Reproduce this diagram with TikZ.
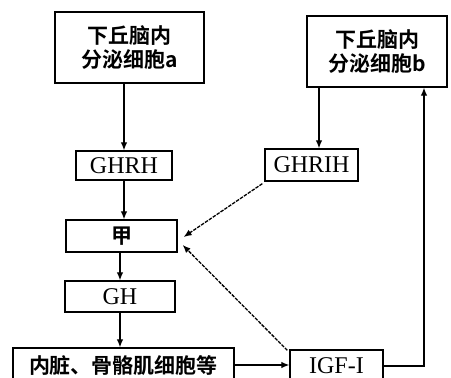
\documentclass[tikz,border=0pt]{standalone}
\usepackage{fontspec}
\setmainfont{Liberation Serif}
\newfontfamily\cjk{Noto Sans CJK SC}[BoldFont={* Bold}]
\usetikzlibrary{arrows.meta,calc}
\begin{document}
\begin{tikzpicture}[x=1pt,y=-1pt,
  box/.style={draw,line width=1.3pt,inner sep=0pt,anchor=center,align=center},
  lat/.style={font=\fontsize{24}{26}\selectfont},
  han/.style={font=\cjk\bfseries\fontsize{21}{24}\selectfont},
  arr/.style={line width=1.2pt,-{Latex[length=8pt,width=6.5pt]}},
  darr/.style={arr,line width=1.3pt,dash pattern=on 3.5pt off 1.2pt}]
\useasboundingbox (0,0) rectangle (451,378);
\clip (0,0) rectangle (451,378);
\node[box,han,minimum width=149pt,minimum height=71pt] (A) at (129.5,47.5) {下丘脑内\\分泌细胞a};
\node[box,han,minimum width=140pt,minimum height=71pt] (B) at (377,51.5) {下丘脑内\\分泌细胞b};
\node[box,lat,minimum width=96pt,minimum height=29pt] (GHRH) at (124,165.5) {GHRH};
\node[box,lat,minimum width=93pt,minimum height=32pt] (GHRIH) at (311.5,165) {GHRIH};
\node[box,han,minimum width=111pt,minimum height=32pt] (J) at (121.5,236) {甲};
\node[box,lat,minimum width=110pt,minimum height=31pt] (GH) at (120,296.5) {GH};
\node[box,han,minimum width=221pt,minimum height=34pt] (N) at (123.5,365) {内脏、骨骼肌细胞等};
\node[box,lat,minimum width=93pt,minimum height=32pt] (I) at (336.5,366) {IGF-I};
\coordinate (bx) at (424,0);
\coordinate (gx) at (319,0);
\draw[arr] (A.south -| GHRH.north) -- (GHRH.north);
\draw[arr] (GHRH.south) -- (GHRH.south |- J.north);
\draw[arr] (J.south -| GH.north) -- (GH.north);
\draw[arr] (GH.south) -- (GH.south |- N.north);
\draw[arr] (N.east) -- (N.east -| I.west);
\draw[arr] (I.east) -| (B.south -| bx);
\draw[arr] (B.south -| gx) -- (GHRIH.north -| gx);
\draw[darr] ([xshift=-2pt,yshift=-2pt]GHRIH.south west) -- ([xshift=6pt,yshift=-1pt]J.east);
\draw[darr] ([xshift=-2pt,yshift=-1pt]I.north west) -- ([xshift=5pt,yshift=-9pt]J.east);
\end{tikzpicture}
\end{document}
